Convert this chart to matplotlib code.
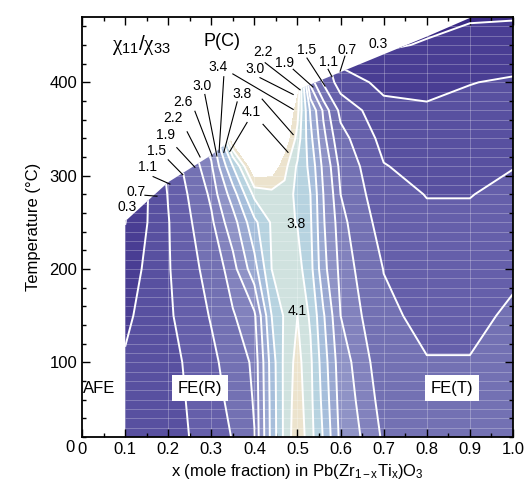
import numpy as np
import matplotlib
matplotlib.use('Agg')
import matplotlib.pyplot as plt
from matplotlib.patches import Polygon
from matplotlib.ticker import MultipleLocator

plt.rcParams['font.family'] = ['Liberation Sans', 'DejaVu Sans']
plt.rcParams['mathtext.fontset'] = 'custom'
plt.rcParams['mathtext.rm'] = 'Liberation Sans'
plt.rcParams['mathtext.it'] = 'Liberation Serif'

# composition (x) and temperature (C) nodes of the chi11/chi33 table
x_nodes = [0.1, 0.2, 0.3, 0.35, 0.4, 0.44, 0.47, 0.5, 0.53, 0.56, 0.6, 0.7, 0.8, 0.9, 1.0]
t_nodes = [20, 60, 100, 150, 200, 250, 280, 310, 340, 370, 400, 440, 480]

# chi11/chi33, one row per temperature
ratio = np.array([
    [0.85, 0.93, 1.28, 1.52, 1.89, 3.13, 3.90, 4.30, 3.94, 3.37, 2.50, 1.85, 1.70, 1.65, 1.72],
    [0.80, 0.93, 1.35, 1.60, 1.93, 3.15, 3.90, 4.25, 3.90, 3.28, 2.43, 1.77, 1.60, 1.60, 1.70],
    [0.74, 0.95, 1.41, 1.67, 1.97, 3.18, 3.90, 4.20, 3.87, 3.20, 2.37, 1.69, 1.52, 1.52, 1.65],
    [0.62, 1.04, 1.53, 1.87, 2.13, 3.40, 3.85, 4.10, 3.75, 3.05, 2.20, 1.59, 1.39, 1.39, 1.57],
    [0.47, 1.07, 1.66, 2.06, 2.84, 3.80, 3.85, 3.95, 3.53, 2.73, 2.10, 1.49, 1.28, 1.28, 1.42],
    [0.29, 1.08, 1.84, 2.42, 3.30, 3.85, 3.90, 3.78, 3.45, 2.64, 2.01, 1.32, 1.16, 1.16, 1.27],
    [0.22, 1.12, 1.97, 2.80, 3.90, 4.00, 4.00, 3.70, 3.40, 2.60, 1.90, 1.22, 1.09, 1.09, 1.18],
    [0.12, 1.20, 2.15, 3.40, 4.70, 4.60, 4.20, 3.75, 3.29, 2.49, 1.81, 1.12, 0.97, 0.99, 1.09],
    [0.10, 1.30, 2.40, 4.60, 5.00, 5.00, 4.60, 4.00, 3.11, 2.30, 1.64, 0.97, 0.86, 0.89, 0.98],
    [0.10, 1.30, 2.50, 5.00, 5.00, 5.00, 4.80, 4.20, 2.95, 2.14, 1.39, 0.81, 0.75, 0.79, 0.86],
    [0.10, 1.30, 2.50, 5.00, 5.00, 5.00, 5.00, 4.50, 2.10, 1.45, 0.90, 0.60, 0.59, 0.69, 0.74],
    [0.10, 1.30, 2.50, 5.00, 5.00, 5.00, 5.00, 4.50, 1.80, 1.10, 0.40, 0.25, 0.33, 0.44, 0.49],
    [0.10, 1.30, 2.50, 5.00, 5.00, 5.00, 5.00, 4.50, 1.60, 0.90, 0.30, 0.10, 0.15, 0.20, 0.20],
])

# Curie line = upper edge of the data
tc_x = [0.1, 0.2, 0.3, 0.5, 0.6, 0.7, 0.8, 0.9, 1.0]
tc_t = [251, 293, 322, 392, 411, 430, 449, 469, 471]

levels = [0.3, 0.7, 1.1, 1.5, 1.9, 2.2, 2.6, 3.0, 3.4, 3.8, 4.1, 4.4]
band_colors = ['#3b2b86', '#493d93', '#5850a0', '#655faa', '#7371b3', '#8282bd',
               '#8f93c6', '#9aa8d1', '#a6bedb', '#b7d3e0', '#d0e2df', '#ece3cd', '#ffffff']

# contour labels: text, position, leader lines
labels = [
    ('0.3', 0.104, 266, []),
    ('0.7', 0.125, 283, [(0.146, 279, 0.174, 278)]),
    ('1.1', 0.153, 309, [(0.165, 299, 0.204, 291)]),
    ('1.5', 0.174, 326, [(0.200, 317, 0.234, 301)]),
    ('1.9', 0.193, 344, [(0.220, 330, 0.262, 309)]),
    ('2.2', 0.211, 362, [(0.244, 347, 0.274, 320)]),
    ('2.6', 0.234, 379, [(0.262, 369, 0.302, 321)]),
    ('3.0', 0.278, 396, [(0.285, 387, 0.313, 321)]),
    ('3.4', 0.316, 416, [(0.329, 406, 0.318, 325), (0.350, 409, 0.490, 371)]),
    ('3.8', 0.371, 387, [(0.360, 379, 0.329, 325), (0.418, 382, 0.490, 344)]),
    ('4.1', 0.392, 368, [(0.383, 357, 0.343, 326), (0.420, 355, 0.478, 325)]),
    ('3.0', 0.401, 414, [(0.413, 405, 0.490, 387)]),
    ('2.2', 0.420, 432, [(0.425, 421, 0.506, 392)]),
    ('1.9', 0.471, 421, [(0.490, 414, 0.536, 395)]),
    ('1.5', 0.522, 435, [(0.522, 426, 0.564, 396)]),
    ('1.1', 0.571, 422, [(0.571, 414, 0.580, 406)]),
    ('0.7', 0.615, 435, [(0.610, 428, 0.599, 412)]),
    ('0.3', 0.687, 441, []),
    ('3.8', 0.497, 248, []),
    ('4.1', 0.499, 155, []),
]

fig = plt.figure(figsize=(5.27, 4.96), dpi=100)
ax = fig.add_axes([0.1556, 0.119, 0.8178, 0.8467])

X, T = np.meshgrid(x_nodes, t_nodes)
edge = Polygon([(x_nodes[0], t_nodes[0])] + list(zip(tc_x, tc_t)) + [(x_nodes[-1], t_nodes[0])],
               closed=True, transform=ax.transData, facecolor='none', edgecolor='none')
ax.add_patch(edge)

cf = ax.contourf(X, T, ratio, levels=[-1] + levels + [10], colors=band_colors, zorder=1)
cf.set_clip_path(edge)

# faint grid of the data table
gv = ax.vlines(np.arange(0.1, 1.01, 0.1), 20, 480, colors='white', alpha=0.3, lw=0.6, zorder=1.5)
gh = ax.hlines(np.arange(20, 480, 10), 0.1, 1.0, colors='white', alpha=0.3, lw=0.6, zorder=1.5)
gv.set_clip_path(edge)
gh.set_clip_path(edge)

cl = ax.contour(X, T, ratio, levels=levels[:-1], colors='white', linewidths=1.4, zorder=2)
cl.set_clip_path(edge)

for txt, lx, lt, leaders in labels:
    ax.text(lx, lt, txt, fontsize=10, ha='center', va='center', zorder=4)
    for x0, t0, x1, t1 in leaders:
        ax.plot([x0, x1], [t0, t1], color='black', lw=0.8, zorder=3)

box = dict(facecolor='white', edgecolor='none', pad=4)
ax.text(0.003, 72, 'AFE', fontsize=12, ha='left', va='center', zorder=4)
ax.text(0.274, 72, 'FE(R)', fontsize=12, ha='center', va='center', bbox=box, zorder=4)
ax.text(0.859, 72, 'FE(T)', fontsize=12, ha='center', va='center', bbox=box, zorder=4)
ax.text(0.137, 440, r'$\chi_{\mathit{11}}/\chi_{\mathit{33}}$', fontsize=15, ha='center', va='center')
ax.text(0.325, 444, 'P(C)', fontsize=13, ha='center', va='center')

ax.set_xlim(0, 1.0)
ax.set_ylim(20, 470)
ax.set_xticks(np.arange(0, 1.01, 0.1))
ax.set_xticklabels(['0'] + ['%.1f' % v for v in np.arange(0.1, 1.01, 0.1)])
ax.set_yticks([100, 200, 300, 400])
ax.xaxis.set_minor_locator(MultipleLocator(0.05))
ax.yaxis.set_minor_locator(MultipleLocator(20))
ax.tick_params(which='both', direction='in', top=True, right=True, labelsize=12)
ax.tick_params(which='major', length=6, width=1)
ax.tick_params(which='minor', length=3, width=1)
ax.text(-0.028, -0.024, '0', transform=ax.transAxes, fontsize=12, ha='center', va='center')
for s in ax.spines.values():
    s.set_linewidth(1.3)

ax.set_xlabel(r'x (mole fraction) in Pb(Zr$_{\mathrm{1-x}}$Ti$_{\mathrm{x}}$)O$_{3}$', fontsize=12, labelpad=4)
ax.set_ylabel('Temperature (°C)', fontsize=12, labelpad=6)

fig.savefig('out.png', dpi=100)
